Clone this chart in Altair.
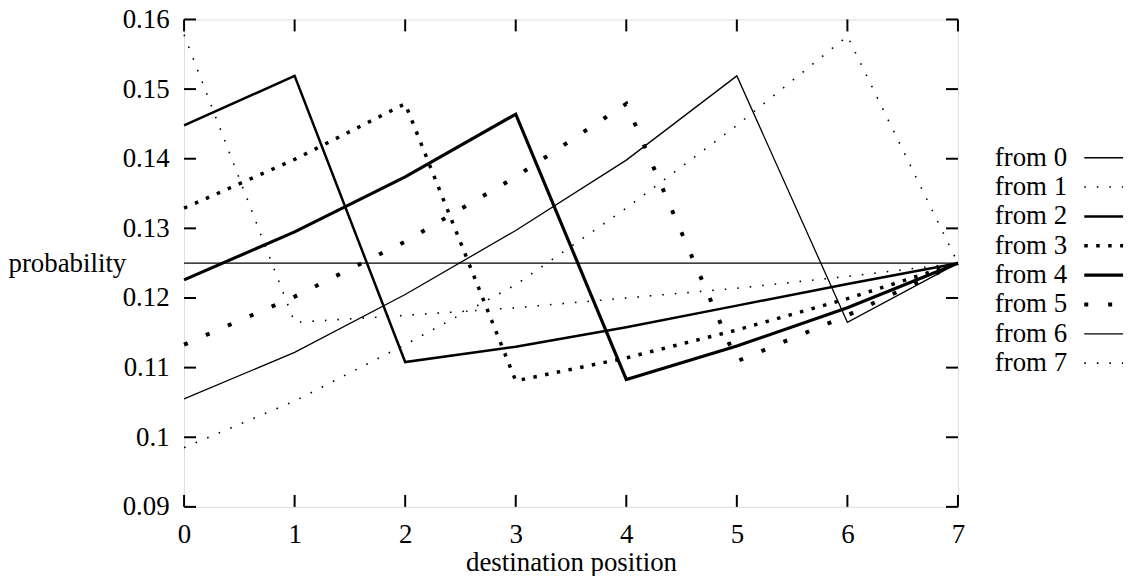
import altair as alt
import pandas as pd

# ---- data ----
x_pos = [0, 1, 2, 3, 4, 5, 6, 7]
series_names = ["from 0", "from 1", "from 2", "from 3", "from 4", "from 5", "from 6", "from 7"]
from_0 = [0.125, 0.125, 0.125, 0.125, 0.125, 0.125, 0.125, 0.125]
from_1 = [0.1578, 0.1165, 0.1175, 0.1186, 0.1200, 0.1214, 0.1231, 0.125]
from_2 = [0.1448, 0.1519, 0.1108, 0.1130, 0.1158, 0.1189, 0.1220, 0.125]
from_3 = [0.1329, 0.1399, 0.1479, 0.1081, 0.1114, 0.1154, 0.1199, 0.125]
from_4 = [0.1226, 0.1295, 0.1374, 0.1464, 0.1083, 0.1131, 0.1186, 0.125]
from_5 = [0.1133, 0.1202, 0.1281, 0.1374, 0.1479, 0.1109, 0.1175, 0.125]
from_6 = [0.1055, 0.1122, 0.1205, 0.1297, 0.1398, 0.1519, 0.1165, 0.125]
from_7 = [0.0985, 0.1052, 0.1133, 0.1219, 0.1329, 0.1448, 0.1576, 0.125]
series_values = [from_0, from_1, from_2, from_3, from_4, from_5, from_6, from_7]

x_ticks = [0, 1, 2, 3, 4, 5, 6, 7]
y_ticks = [0.09, 0.1, 0.11, 0.12, 0.13, 0.14, 0.15, 0.16]

# ---- styles ----
FONT = "Liberation Serif"
FS = 27
W, H = 778, 490
styles = [
    dict(strokeWidth=1.3),
    dict(strokeWidth=1.6, strokeDash=[1.6, 11]),
    dict(strokeWidth=2.5),
    dict(strokeWidth=3.5, strokeDash=[3.5, 8.5]),
    dict(strokeWidth=3.2),
    dict(strokeWidth=4, strokeDash=[4, 20]),
    dict(strokeWidth=1.3),
    dict(strokeWidth=1.6, strokeDash=[1.6, 11]),
]

X = alt.X(
    "x:Q",
    scale=alt.Scale(domain=[0, 7], nice=False, zero=False),
    axis=alt.Axis(
        values=x_ticks, format="d", domain=False, ticks=False, grid=False,
        labelFont=FONT, labelFontSize=FS, labelColor="black", labelPadding=15,
        labelFlush=False,
        title="destination position", titleFont=FONT, titleFontSize=FS,
        titleFontWeight="normal", titleColor="black", titleBaseline="alphabetic",
        titleY=64,
    ),
)
Y = alt.Y(
    "y:Q",
    scale=alt.Scale(domain=[0.09, 0.16], nice=False, zero=False),
    axis=alt.Axis(
        values=y_ticks, format="~g", domain=False, ticks=False, grid=False,
        labelFont=FONT, labelFontSize=FS, labelColor="black", labelPadding=15,
        labelFlush=False,
        title="probability", titleFont=FONT, titleFontSize=FS,
        titleFontWeight="normal", titleColor="black", titleAngle=0,
        titleAlign="left", titleBaseline="middle", titleX=-177, titleY=H / 2,
    ),
)

layers = []
for name, vals, st in zip(series_names, series_values, styles):
    df = pd.DataFrame({"x": x_pos, "y": vals, "series": name})
    layers.append(
        alt.Chart(df).mark_line(color="black", strokeCap="butt", clip=False, **st)
        .encode(x=X, y=Y)
    )

xt = pd.DataFrame({"x": x_ticks})
yt = pd.DataFrame({"y": y_ticks})
tick = dict(color="black", strokeWidth=2)
layers += [
    alt.Chart(yt).mark_rule(**tick).encode(y=Y, x=alt.value(0), x2=alt.value(12)),
    alt.Chart(yt).mark_rule(**tick).encode(y=Y, x=alt.value(W - 12), x2=alt.value(W)),
    alt.Chart(xt).mark_rule(**tick).encode(x=X, y=alt.value(H), y2=alt.value(H - 12)),
    alt.Chart(xt).mark_rule(**tick).encode(x=X, y=alt.value(0), y2=alt.value(12)),
]
main = alt.layer(*layers)

# ---- legend (text left, line sample right) ----
leg_df = pd.DataFrame({"row": list(range(len(series_names))), "name": series_names})
LY = alt.Y("row:Q", scale=alt.Scale(domain=[0, 7], range=[139, 345.5]), axis=None)
leg_layers = [
    alt.Chart(leg_df).mark_text(align="left", baseline="middle", font=FONT,
                                fontSize=FS, color="black")
    .encode(y=LY, x=alt.value(815), text="name:N")
]
for i, st in enumerate(styles):
    leg_layers.append(
        alt.Chart(leg_df[leg_df["row"] == i]).mark_rule(color="black", strokeCap="butt", **st)
        .encode(y=LY, x=alt.value(905), x2=alt.value(944))
    )
legend = alt.layer(*leg_layers)

chart = (
    alt.layer(main, legend)
    .resolve_scale(x="independent", y="independent")
    .properties(
        width=W, height=H,
        autosize=alt.AutoSizeParams(type="none"),
        padding={"left": 177, "top": 10, "right": 180, "bottom": 75},
    )
    .configure_view(stroke="black", strokeWidth=2)
    .configure(background="white")
)

chart.save("out.html", embed_options={"renderer": "svg", "actions": False})
